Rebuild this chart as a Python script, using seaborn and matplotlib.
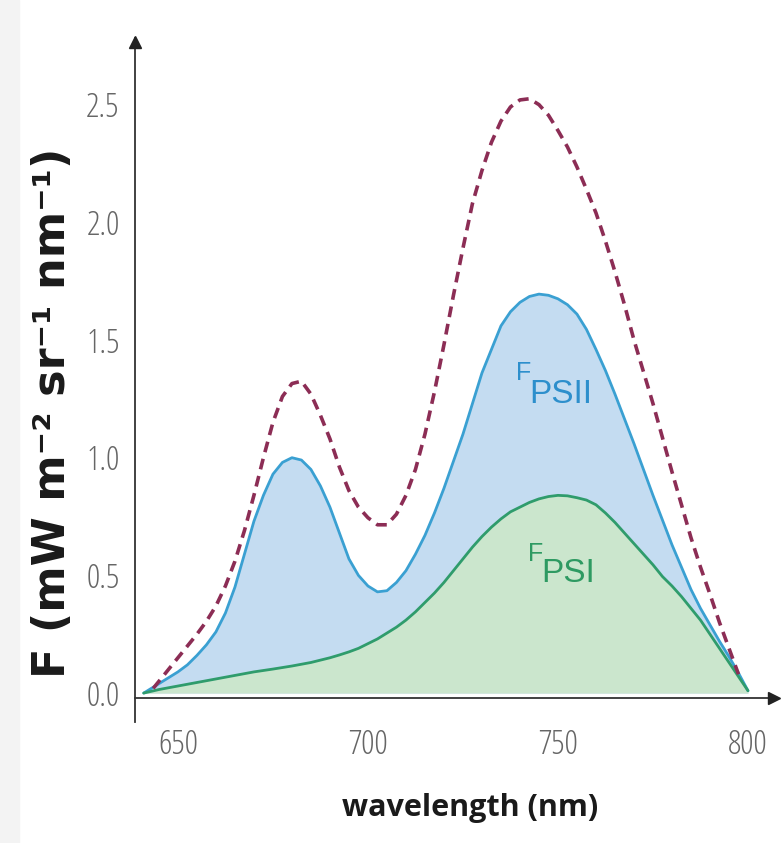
import matplotlib
matplotlib.use("Agg")
import matplotlib.pyplot as plt
from matplotlib import font_manager as fm
from matplotlib.patches import Rectangle
import seaborn as sns
import pandas as pd

# ---------------- data ----------------
wl_total = [643.5, 645, 647.5, 650, 652.5, 655, 657.5, 660, 662.5, 665, 667.5, 670, 672.5,
            675, 677.5, 680, 682.5, 685, 687.5, 690, 692.5, 695, 697.5, 700, 702.5, 705,
            707.5, 710, 712.5, 715, 717.5, 720, 722.5, 725, 727.5, 730, 732.5, 735, 737.5,
            740, 742.5, 745, 747.5, 750, 752.5, 755, 757.5, 760, 762.5, 765, 767.5, 770,
            772.5, 775, 777.5, 780, 782.5, 785, 787.5, 790, 792.5, 795, 797.5]
F_total = [0.02, 0.05, 0.10, 0.15, 0.20, 0.25, 0.305, 0.37, 0.455, 0.56, 0.69, 0.84, 1.00,
           1.15, 1.26, 1.315, 1.325, 1.27, 1.18, 1.08, 0.96, 0.86, 0.79, 0.745, 0.715, 0.715,
           0.76, 0.84, 0.95, 1.10, 1.28, 1.48, 1.69, 1.89, 2.08, 2.22, 2.34, 2.43, 2.49,
           2.52, 2.525, 2.50, 2.455, 2.39, 2.32, 2.235, 2.14, 2.04, 1.92, 1.79, 1.65, 1.50,
           1.365, 1.23, 1.085, 0.94, 0.80, 0.66, 0.535, 0.42, 0.30, 0.19, 0.08]

wl_psii = [641, 642.5, 645, 647.5, 650, 652.5, 655, 657.5, 660, 662.5, 665, 667.5, 670, 672.5,
           675, 677.5, 680, 682.5, 685, 687.5, 690, 692.5, 695, 697.5, 700, 702.5, 705, 707.5,
           710, 712.5, 715, 717.5, 720, 722.5, 725, 727.5, 730, 732.5, 735, 737.5, 740, 742.5,
           745, 747.5, 750, 752.5, 755, 757.5, 760, 762.5, 765, 767.5, 770, 772.5, 775, 777.5,
           780, 782.5, 785, 787.5, 790, 792.5, 795, 797.5, 800]
F_psii = [0.0, 0.015, 0.04, 0.065, 0.09, 0.12, 0.16, 0.205, 0.26, 0.34, 0.45, 0.59, 0.73, 0.84,
          0.93, 0.98, 1.0, 0.99, 0.95, 0.88, 0.79, 0.68, 0.57, 0.50, 0.455, 0.43, 0.435, 0.47,
          0.52, 0.59, 0.67, 0.765, 0.87, 0.985, 1.10, 1.23, 1.36, 1.46, 1.56, 1.62, 1.66, 1.685,
          1.695, 1.69, 1.675, 1.65, 1.61, 1.545, 1.46, 1.37, 1.27, 1.165, 1.06, 0.95, 0.84, 0.735,
          0.63, 0.535, 0.44, 0.36, 0.29, 0.22, 0.155, 0.085, 0.01]

wl_psi = [641, 645, 650, 655, 660, 665, 670, 675, 680, 685, 690, 692.5, 695, 697.5, 700, 702.5,
          705, 707.5, 710, 712.5, 715, 717.5, 720, 722.5, 725, 727.5, 730, 732.5, 735, 737.5,
          740, 742.5, 745, 747.5, 750, 752.5, 755, 757.5, 760, 762.5, 765, 767.5, 770, 772.5,
          775, 777.5, 780, 782.5, 785, 787.5, 790, 792.5, 795, 797.5, 800]
F_psi = [0.0, 0.015, 0.03, 0.045, 0.06, 0.075, 0.09, 0.102, 0.115, 0.13, 0.15, 0.162, 0.175,
         0.19, 0.21, 0.23, 0.255, 0.28, 0.31, 0.345, 0.385, 0.425, 0.47, 0.52, 0.57, 0.62,
         0.665, 0.705, 0.74, 0.77, 0.79, 0.81, 0.825, 0.835, 0.84, 0.838, 0.83, 0.82, 0.80,
         0.765, 0.725, 0.68, 0.635, 0.59, 0.545, 0.495, 0.455, 0.41, 0.36, 0.31, 0.25, 0.19,
         0.13, 0.07, 0.01]

x_ticks = [650, 700, 750, 800]
y_ticks = [0.0, 0.5, 1.0, 1.5, 2.0, 2.5]
y_tick_labels = ["0.0", "0.5", "1.0", "1.5", "2.0", "2.5"]

ylabel_text = "F (mW m\u207b\u00b2 sr\u207b\u00b9 nm\u207b\u00b9)"
xlabel_text = "wavelength (nm)"

# ---------------- style ----------------
sns.set_theme(style="white")
plt.rcParams["font.family"] = ["DejaVu Sans"]

# find a condensed face (prefer regular weight) if one is installed
COND = ("condensed", "semi-condensed", "extra-condensed")
cond_family, cond_stretch, cond_weight = None, "normal", "normal"
for f in fm.fontManager.ttflist:
    if f.name == "Liberation Sans Narrow":
        cond_family = f.name
        break
if cond_family is None:
    best = None
    for pref in ["Noto Sans", "Open Sans", "Roboto", "Inter", "DejaVu Sans"]:
        cands = [f for f in fm.fontManager.ttflist
                 if f.name == pref and str(f.stretch) in COND and f.style == "normal"]
        if cands:
            cands.sort(key=lambda f: abs((f.weight if isinstance(f.weight, int) else 400) - 400))
            best = cands[0]
            break
    if best is not None:
        cond_family, cond_stretch = best.name, best.stretch
        cond_weight = best.weight
if cond_family is None:
    cond_family = "Liberation Sans"
is_cond = cond_stretch != "normal" or cond_family == "Liberation Sans Narrow"

c_total = "#8c2d55"
c_psii_line = "#3aa0d2"
c_psii_fill = "#c4dcf1"
c_psi_line = "#2f9c6c"
c_psi_fill = "#cbe6cd"
c_psii_text = "#2d8fcc"
c_psi_text = "#2e9a62"

df_total = pd.DataFrame({"wl": wl_total, "F": F_total})
df_psii = pd.DataFrame({"wl": wl_psii, "F": F_psii})
df_psi = pd.DataFrame({"wl": wl_psi, "F": F_psi})

fig = plt.figure(figsize=(7.82, 8.43), dpi=100)
fig.patches.append(Rectangle((0, 0), 0.024, 1, transform=fig.transFigure,
                             color="#f3f3f3", zorder=0))
ax = fig.add_axes([0.1726, 0.1435, 0.8223, 0.8114])
ax.patch.set_alpha(0)

ax.fill_between(df_psii["wl"], 0, df_psii["F"], color=c_psii_fill, lw=0, zorder=1)
ax.fill_between(df_psi["wl"], 0, df_psi["F"], color=c_psi_fill, lw=0, zorder=2)
sns.lineplot(data=df_psii, x="wl", y="F", ax=ax, color=c_psii_line, lw=2.0,
             sort=False, zorder=3)
sns.lineplot(data=df_psi, x="wl", y="F", ax=ax, color=c_psi_line, lw=2.0,
             sort=False, zorder=4)
sns.lineplot(data=df_total, x="wl", y="F", ax=ax, color=c_total, lw=2.6,
             sort=False, zorder=5, linestyle=(0, (3.0, 1.9)))

ax.set_xlim(638.7, 807.9)
ax.set_ylim(-0.123, 2.783)
ax.set_xlabel("")
ax.set_ylabel("")

for s in ("top", "right"):
    ax.spines[s].set_visible(False)
ax.spines["bottom"].set_position(("data", -0.021))
for s in ("left", "bottom"):
    ax.spines[s].set_color("#333333")
    ax.spines[s].set_linewidth(1.3)

# arrow heads
ax.plot(0.994, -0.021, marker=">", ms=9, color="#222222",
        transform=ax.get_yaxis_transform(), clip_on=False, zorder=6)
ax.plot(0, 0.994, marker="^", ms=9, color="#222222",
        transform=ax.transAxes, clip_on=False, zorder=6)

tick_fs = 24 if is_cond else 20
ax.set_xticks(x_ticks)
ax.set_xticklabels([str(v) for v in x_ticks])
ax.set_yticks(y_ticks)
ax.set_yticklabels(y_tick_labels)
ax.tick_params(axis="both", direction="out", length=8, width=1.2, color="#555555",
               labelsize=tick_fs, labelcolor="#666666")
ax.tick_params(axis="x", pad=14)
ax.tick_params(axis="y", pad=3)
for lab in ax.get_xticklabels() + ax.get_yticklabels():
    lab.set_family(cond_family)
    lab.set_stretch(cond_stretch)
    lab.set_weight(cond_weight)

# curve labels
lab_family = "Liberation Sans"
ax.text(741.0, 1.36, "F", color=c_psii_text, fontsize=18, family=lab_family,
        ha="center", va="center", zorder=7)
ax.text(750.8, 1.27, "PSII", color=c_psii_text, fontsize=24, family=lab_family,
        ha="center", va="center", zorder=7)
ax.text(744.2, 0.59, "F", color=c_psi_text, fontsize=18, family=lab_family,
        ha="center", va="center", zorder=7)
ax.text(752.8, 0.51, "PSI", color=c_psi_text, fontsize=24, family=lab_family,
        ha="center", va="center", zorder=7)

fig.text(53 / 782, 1 - 413 / 843, ylabel_text, rotation=90, ha="center", va="center",
         fontsize=32, fontweight="bold", family="DejaVu Sans", color="#1a1a1a")
fig.text(470 / 782, 1 - 808 / 843, xlabel_text, ha="center", va="center",
         fontsize=22 if is_cond else 24, fontweight="bold", family=cond_family,
         stretch=cond_stretch, color="#1a1a1a")

fig.savefig("out.png", dpi=100)
